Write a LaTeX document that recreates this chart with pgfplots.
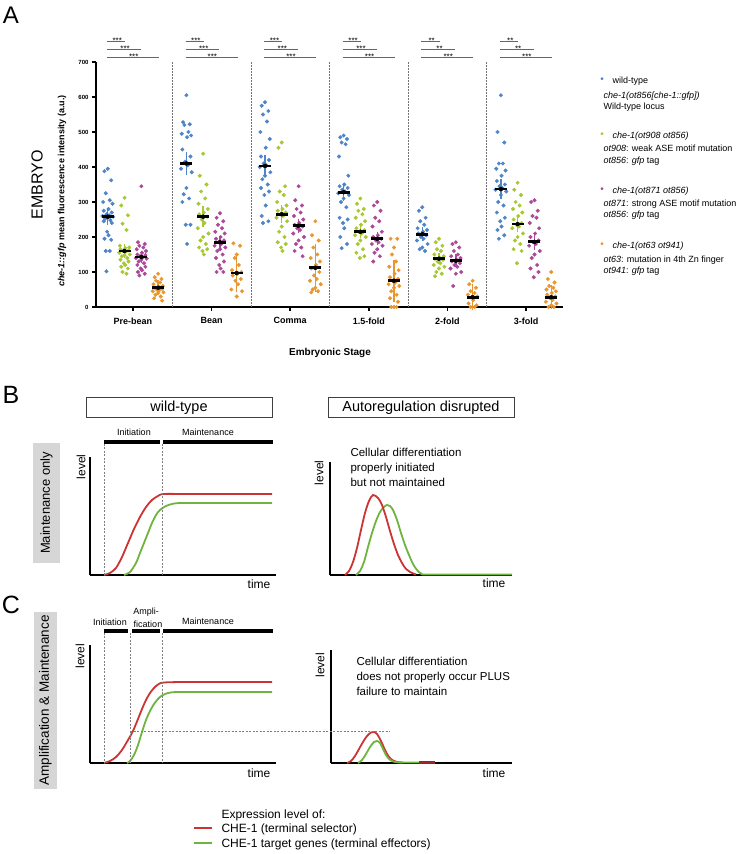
\documentclass[border=0pt]{standalone}
\usepackage{fontspec}
\setmainfont{Liberation Sans}
\usepackage{pgfplots}
\pgfplotsset{compat=1.18}
\definecolor{wtb}{RGB}{78,132,200}
\definecolor{grn}{RGB}{166,200,50}
\definecolor{mag}{RGB}{172,72,152}
\definecolor{org}{RGB}{234,150,48}
\definecolor{cred}{RGB}{204,52,52}
\definecolor{cgrn}{RGB}{112,180,64}
\newcommand{\fs}[1]{\fontsize{#1}{#1}\selectfont}
\pgfplotsset{schem/.style={anchor=south west, scale only axis, axis x line=bottom, axis y line=left,
  axis line style={-, line width=2.2pt, black}, xtick=\empty, ytick=\empty, clip=false}}

\begin{document}
\begin{tikzpicture}
\useasboundingbox (0,0) rectangle (736pt,854pt);

% ---------------- Panel A ----------------
\begin{axis}[at={(96pt,547pt)}, anchor=south west, scale only axis, width=467pt, height=245pt,
  xmin=-0.47, xmax=5.47, ymin=0, ymax=700, clip=false,
  axis x line=bottom, axis y line=left, axis line style={-, line width=2.4pt, black},
  xtick={0,1,2,3,4,5}, xticklabels={Pre-bean,Bean,Comma,1.5-fold,2-fold,3-fold},
  ytick={0,100,...,700}, tick align=outside, major tick length=4pt,
  tick style={line width=1.8pt, black},
  x tick label style={font=\bfseries\fs{9}, yshift=-3pt},
  y tick label style={font=\bfseries\fs{6}},
  /pgf/number format/assume math mode=true]

\draw[black!55, dash pattern=on 1.5pt off 1.5pt, line width=0.5pt] (axis cs:0.5,0) -- (axis cs:0.5,700);
\draw[black!55, dash pattern=on 1.5pt off 1.5pt, line width=0.5pt] (axis cs:1.5,0) -- (axis cs:1.5,700);
\draw[black!55, dash pattern=on 1.5pt off 1.5pt, line width=0.5pt] (axis cs:2.5,0) -- (axis cs:2.5,700);
\draw[black!55, dash pattern=on 1.5pt off 1.5pt, line width=0.5pt] (axis cs:3.5,0) -- (axis cs:3.5,700);
\draw[black!55, dash pattern=on 1.5pt off 1.5pt, line width=0.5pt] (axis cs:4.5,0) -- (axis cs:4.5,700);

% wild-type
\addplot[only marks, mark=*, mark size=1.8pt, color=wtb] table[row sep=\\, x expr=\thisrow{s}-0.32+0.85*\thisrow{d}, y=y] {
s d y\\
0 0 395\\0 -.05 388\\0 .05 362\\0 -.03 325\\0 .03 305\\0 -.07 300\\0 .07 295\\0 .01 280\\0 -.06 275\\0 .06 270\\0 -.02 265\\0 .02 262\\0 -.08 260\\0 .08 258\\0 0 255\\0 -.04 252\\0 .04 248\\0 -.06 245\\0 .06 240\\0 -.01 215\\0 .01 205\\0 -.05 195\\0 .05 192\\0 -.03 160\\0 .03 160\\0 -.02 102\\
1 0 605\\1 -.05 528\\1 .05 522\\1 -.03 520\\1 .03 500\\1 -.07 495\\1 .07 490\\1 .01 485\\1 -.06 450\\1 .06 430\\1 -.02 415\\1 .02 405\\1 -.08 395\\1 .08 385\\1 0 340\\1 -.04 322\\1 .04 310\\1 -.06 300\\1 .06 235\\1 -.01 235\\1 .01 180\\
2 0 585\\2 -.05 575\\2 .05 560\\2 -.03 550\\2 .03 530\\2 -.07 500\\2 .07 480\\2 .01 455\\2 -.06 430\\2 .06 420\\2 -.02 410\\2 .02 405\\2 -.08 400\\2 .08 385\\2 0 375\\2 -.04 365\\2 .04 350\\2 -.06 340\\2 .06 330\\2 -.01 320\\2 .01 290\\2 -.05 260\\2 .05 245\\2 -.03 240\\
3 0 490\\3 -.05 485\\3 .05 480\\3 -.03 470\\3 .03 465\\3 -.07 430\\3 .07 375\\3 .01 350\\3 -.06 345\\3 .06 340\\3 -.02 335\\3 .02 330\\3 -.08 325\\3 .08 320\\3 0 310\\3 -.04 300\\3 .04 285\\3 -.06 255\\3 .06 250\\3 -.01 240\\3 .01 225\\3 -.05 200\\3 .05 180\\3 -.03 168\\
4 0 285\\4 -.05 275\\4 .05 255\\4 -.03 245\\4 .03 235\\4 -.07 225\\4 .07 220\\4 .01 215\\4 -.06 210\\4 .06 205\\4 -.02 200\\4 .02 195\\4 -.08 190\\4 .08 180\\4 0 170\\4 -.04 165\\4 .04 160\\
5 0 605\\5 -.05 500\\5 .05 470\\5 -.03 410\\5 .03 410\\5 -.07 395\\5 .07 390\\5 .01 375\\5 -.06 360\\5 .06 350\\5 -.02 345\\5 .02 340\\5 -.08 335\\5 .08 330\\5 0 320\\5 -.04 300\\5 .04 290\\5 -.06 270\\5 .06 255\\5 -.01 245\\5 .01 230\\5 -.05 220\\5 .05 205\\5 -.03 195\\
};
% ot908
\addplot[only marks, mark=*, mark size=1.8pt, color=grn] table[row sep=\\, x expr=\thisrow{s}-0.107+0.85*\thisrow{d}, y=y] {
s d y\\
0 0 312\\0 -.05 290\\0 .05 262\\0 -.03 238\\0 .03 220\\0 -.07 175\\0 .07 170\\0 .01 168\\0 -.06 165\\0 .06 162\\0 -.02 160\\0 .02 158\\0 -.08 155\\0 .08 150\\0 0 148\\0 -.04 145\\0 .04 140\\0 -.06 135\\0 .06 130\\0 -.01 125\\0 .01 120\\0 -.05 115\\0 .05 110\\0 -.03 100\\0 .03 95\\
1 0 438\\1 -.05 375\\1 .05 350\\1 -.03 330\\1 .03 310\\1 -.07 295\\1 .07 280\\1 .01 270\\1 -.06 265\\1 .06 258\\1 -.02 250\\1 .02 240\\1 -.08 225\\1 .08 210\\1 0 200\\1 -.04 190\\1 .04 180\\1 -.06 170\\1 .06 165\\1 -.01 160\\1 .01 150\\
2 0 470\\2 -.05 455\\2 .05 345\\2 -.03 330\\2 .03 320\\2 -.07 300\\2 .07 290\\2 .01 280\\2 -.06 275\\2 .06 270\\2 -.02 265\\2 .02 260\\2 -.08 255\\2 .08 245\\2 0 230\\2 -.04 215\\2 .04 200\\2 -.06 185\\2 .06 180\\2 -.01 170\\2 .01 160\\
3 0 310\\3 -.05 295\\3 .05 280\\3 -.03 275\\3 .03 265\\3 -.07 255\\3 .07 245\\3 .01 235\\3 -.06 225\\3 .06 220\\3 -.02 215\\3 .02 210\\3 -.08 205\\3 .08 200\\3 0 190\\3 -.04 180\\3 .04 165\\3 -.06 155\\3 .06 145\\3 -.01 140\\
4 0 195\\4 -.05 185\\4 .05 175\\4 -.03 165\\4 .03 160\\4 -.07 150\\4 .07 145\\4 .01 140\\4 -.06 138\\4 .06 135\\4 -.02 130\\4 .02 125\\4 -.08 120\\4 .08 115\\4 0 110\\4 -.04 100\\4 .04 95\\4 -.06 88\\
5 0 355\\5 -.05 335\\5 .05 320\\5 -.03 300\\5 .03 290\\5 -.07 280\\5 .07 270\\5 .01 260\\5 -.06 250\\5 .06 240\\5 -.02 235\\5 .02 230\\5 -.08 225\\5 .08 210\\5 0 200\\5 -.04 190\\5 .04 180\\5 -.06 165\\5 .06 160\\5 -.01 125\\
};
% ot871
\addplot[only marks, mark=*, mark size=1.8pt, color=mag] table[row sep=\\, x expr=\thisrow{s}+0.107+0.85*\thisrow{d}, y=y] {
s d y\\
0 0 345\\0 -.05 185\\0 .05 180\\0 -.03 175\\0 .03 170\\0 -.07 165\\0 .07 160\\0 .01 155\\0 -.06 150\\0 .06 148\\0 -.02 145\\0 .02 142\\0 -.08 140\\0 .08 138\\0 0 135\\0 -.04 130\\0 .04 125\\0 -.06 120\\0 .06 115\\0 -.01 110\\0 .01 105\\0 -.05 100\\0 .05 95\\0 -.03 90\\
1 0 268\\1 -.05 255\\1 .05 245\\1 -.03 235\\1 .03 225\\1 -.07 215\\1 .07 210\\1 .01 200\\1 -.06 195\\1 .06 190\\1 -.02 185\\1 .02 180\\1 -.08 175\\1 .08 170\\1 0 165\\1 -.04 160\\1 .04 150\\1 -.06 140\\1 .06 130\\1 -.01 120\\1 .01 110\\1 -.05 100\\1 .05 100\\
2 0 345\\2 -.05 305\\2 .05 290\\2 -.03 280\\2 .03 270\\2 -.07 260\\2 .07 250\\2 .01 240\\2 -.06 235\\2 .06 230\\2 -.02 225\\2 .02 220\\2 -.08 210\\2 .08 200\\2 0 190\\2 -.04 180\\2 .04 170\\2 -.06 160\\2 .06 145\\
3 0 300\\3 -.05 290\\3 .05 275\\3 -.03 255\\3 .03 245\\3 -.07 230\\3 .07 215\\3 .01 205\\3 -.06 200\\3 .06 195\\3 -.02 190\\3 .02 185\\3 -.08 180\\3 .08 175\\3 0 165\\3 -.04 155\\3 .04 145\\3 -.06 130\\
4 0 185\\4 -.05 180\\4 .05 170\\4 -.03 160\\4 .03 150\\4 -.07 145\\4 .07 140\\4 .01 135\\4 -.06 130\\4 .06 125\\4 -.02 120\\4 .02 115\\4 -.08 110\\4 .08 100\\4 0 95\\4 -.04 60\\
5 0 305\\5 -.05 300\\5 .05 275\\5 -.03 260\\5 .03 255\\5 -.07 240\\5 .07 225\\5 .01 210\\5 -.06 200\\5 .06 190\\5 -.02 185\\5 .02 180\\5 -.08 175\\5 .08 160\\5 0 150\\5 -.04 140\\5 .04 120\\5 -.06 110\\5 .06 100\\5 -.01 85\\
};
% ot63
\addplot[only marks, mark=*, mark size=1.8pt, color=org] table[row sep=\\, x expr=\thisrow{s}+0.32+0.85*\thisrow{d}, y=y] {
s d y\\
0 0 95\\0 -.05 85\\0 .05 80\\0 -.03 75\\0 .03 70\\0 -.07 65\\0 .07 60\\0 .01 58\\0 -.06 55\\0 .06 52\\0 -.02 50\\0 .02 48\\0 -.08 45\\0 .08 42\\0 0 40\\0 -.04 35\\0 .04 30\\0 -.06 25\\0 .06 18\\
1 -.05 182\\1 .05 175\\1 0 150\\1 -.03 140\\1 .03 120\\1 -.07 105\\1 .07 100\\1 .01 95\\1 -.06 90\\1 .06 80\\1 -.02 75\\1 .02 65\\1 -.08 50\\1 .08 45\\1 0 30\\
2 0 245\\2 -.05 205\\2 .05 190\\2 -.03 170\\2 .03 150\\2 -.07 140\\2 .07 130\\2 .01 120\\2 -.06 110\\2 .06 100\\2 -.02 90\\2 .02 80\\2 -.08 75\\2 .08 65\\2 0 55\\2 -.04 50\\2 .04 45\\2 -.06 42\\
3 -.05 195\\3 .05 195\\3 0 170\\3 -.03 150\\3 .03 130\\3 -.07 115\\3 .07 105\\3 .01 95\\3 -.06 85\\3 .06 80\\3 -.02 75\\3 .02 70\\3 -.08 65\\3 .08 60\\3 0 55\\3 -.04 45\\3 .04 35\\3 -.06 25\\3 .06 15\\3 -.04 0\\3 0 0\\3 .04 0\\
4 0 75\\4 -.05 65\\4 .05 55\\4 -.03 45\\4 .03 40\\4 -.07 35\\4 .07 30\\4 .01 20\\4 -.06 10\\4 .06 5\\4 -.03 0\\4 .03 0\\
5 0 100\\5 -.05 80\\5 .05 70\\5 -.03 60\\5 .03 55\\5 -.07 50\\5 .07 45\\5 .01 40\\5 -.06 35\\5 .06 30\\5 -.02 25\\5 .02 20\\5 -.08 15\\5 .08 10\\5 0 5\\5 -.04 0\\5 .04 0\\
};

% error bars
\addplot[only marks, mark=none, forget plot, error bars/.cd, y dir=both, y explicit,
  error bar style={line width=1.4pt, wtb}, error mark options={wtb, line width=1.4pt, mark size=3.5pt}]
  coordinates {(-0.32,258) +- (0,15) (0.68,410) +- (0,23) (1.68,403) +- (0,22) (2.68,328) +- (0,15) (3.68,208) +- (0,10) (4.68,337) +- (0,18)};
\addplot[only marks, mark=none, forget plot, error bars/.cd, y dir=both, y explicit,
  error bar style={line width=1.4pt, grn}, error mark options={grn, line width=1.4pt, mark size=3.5pt}]
  coordinates {(-0.107,160) +- (0,10) (0.893,258) +- (0,20) (1.893,265) +- (0,15) (2.893,215) +- (0,8) (3.893,138) +- (0,6) (4.893,237) +- (0,12)};
\addplot[only marks, mark=none, forget plot, error bars/.cd, y dir=both, y explicit,
  error bar style={line width=1.4pt, mag}, error mark options={mag, line width=1.4pt, mark size=3.5pt}]
  coordinates {(0.107,143) +- (0,8) (1.107,185) +- (0,8) (2.107,232) +- (0,10) (3.107,195) +- (0,8) (4.107,132) +- (0,8) (5.107,186) +- (0,12)};
\addplot[only marks, mark=none, forget plot, error bars/.cd, y dir=both, y explicit,
  error bar style={line width=1.4pt, org}, error mark options={org, line width=1.4pt, mark size=3.5pt}]
  coordinates {(0.32,55) +- (0,12) (1.32,97) +- (0,45) (2.32,112) +- (0,58) (3.32,75) +- (0,50) (4.32,28) +- (0,28) (5.32,28) +- (0,25)};
% means
\addplot[only marks, mark=-, mark size=6pt, mark options={line width=2.8pt, black}] coordinates {
(-0.32,258) (0.68,410) (1.68,403) (2.68,328) (3.68,208) (4.68,337)
(-0.107,160) (0.893,258) (1.893,265) (2.893,215) (3.893,138) (4.893,237)
(0.107,143) (1.107,185) (2.107,232) (3.107,195) (4.107,132) (5.107,186)
(0.32,55) (1.32,97) (2.32,112) (3.32,75) (4.32,28) (5.32,28)};

% significance
\draw[black!60, line width=0.6pt] (axis cs:-0.33,760) -- (axis cs:-0.10,760);
\draw[black!60, line width=0.6pt] (axis cs:-0.33,737) -- (axis cs:0.10,737);
\draw[black!60, line width=0.6pt] (axis cs:-0.33,714) -- (axis cs:0.33,714);
\draw[black!60, line width=0.6pt] (axis cs:0.67,760) -- (axis cs:0.90,760);
\draw[black!60, line width=0.6pt] (axis cs:0.67,737) -- (axis cs:1.10,737);
\draw[black!60, line width=0.6pt] (axis cs:0.67,714) -- (axis cs:1.33,714);
\draw[black!60, line width=0.6pt] (axis cs:1.67,760) -- (axis cs:1.90,760);
\draw[black!60, line width=0.6pt] (axis cs:1.67,737) -- (axis cs:2.10,737);
\draw[black!60, line width=0.6pt] (axis cs:1.67,714) -- (axis cs:2.33,714);
\draw[black!60, line width=0.6pt] (axis cs:2.67,760) -- (axis cs:2.90,760);
\draw[black!60, line width=0.6pt] (axis cs:2.67,737) -- (axis cs:3.10,737);
\draw[black!60, line width=0.6pt] (axis cs:2.67,714) -- (axis cs:3.33,714);
\draw[black!60, line width=0.6pt] (axis cs:3.67,760) -- (axis cs:3.90,760);
\draw[black!60, line width=0.6pt] (axis cs:3.67,737) -- (axis cs:4.10,737);
\draw[black!60, line width=0.6pt] (axis cs:3.67,714) -- (axis cs:4.33,714);
\draw[black!60, line width=0.6pt] (axis cs:4.67,760) -- (axis cs:4.90,760);
\draw[black!60, line width=0.6pt] (axis cs:4.67,737) -- (axis cs:5.10,737);
\draw[black!60, line width=0.6pt] (axis cs:4.67,714) -- (axis cs:5.33,714);
\node[anchor=base, font=\fs{8}, inner sep=0] at (axis cs:-0.20,753) {***};
\node[anchor=base, font=\fs{8}, inner sep=0] at (axis cs:-0.10,730) {***};
\node[anchor=base, font=\fs{8}, inner sep=0] at (axis cs:0.01,707) {***};
\node[anchor=base, font=\fs{8}, inner sep=0] at (axis cs:0.80,753) {***};
\node[anchor=base, font=\fs{8}, inner sep=0] at (axis cs:0.90,730) {***};
\node[anchor=base, font=\fs{8}, inner sep=0] at (axis cs:1.01,707) {***};
\node[anchor=base, font=\fs{8}, inner sep=0] at (axis cs:1.80,753) {***};
\node[anchor=base, font=\fs{8}, inner sep=0] at (axis cs:1.90,730) {***};
\node[anchor=base, font=\fs{8}, inner sep=0] at (axis cs:2.01,707) {***};
\node[anchor=base, font=\fs{8}, inner sep=0] at (axis cs:2.80,753) {***};
\node[anchor=base, font=\fs{8}, inner sep=0] at (axis cs:2.90,730) {***};
\node[anchor=base, font=\fs{8}, inner sep=0] at (axis cs:3.01,707) {***};
\node[anchor=base, font=\fs{8}, inner sep=0] at (axis cs:3.80,753) {**};
\node[anchor=base, font=\fs{8}, inner sep=0] at (axis cs:3.90,730) {**};
\node[anchor=base, font=\fs{8}, inner sep=0] at (axis cs:4.01,707) {***};
\node[anchor=base, font=\fs{8}, inner sep=0] at (axis cs:4.80,753) {**};
\node[anchor=base, font=\fs{8}, inner sep=0] at (axis cs:4.90,730) {**};
\node[anchor=base, font=\fs{8}, inner sep=0] at (axis cs:5.01,707) {***};
\end{axis}

% ---------------- Panel B schematics ----------------
\begin{axis}[schem, at={(90pt,279pt)}, width=186pt, height=118pt, xmin=0, xmax=186, ymin=0, ymax=118]
\addplot[smooth, cred, line width=1.8pt] coordinates {(14,0) (20,2) (26,7) (32,18) (38,32) (44,46) (50,58) (56,68) (62,75) (68,79) (74,81) (100,81) (182,81)};
\addplot[smooth, cgrn, line width=1.8pt] coordinates {(34,0) (40,3) (46,12) (50,22) (54,32) (58,42) (62,52) (66,60) (70,65) (76,69) (84,71.5) (95,72) (130,72) (182,72)};
\end{axis}
\begin{axis}[schem, at={(330pt,279pt)}, width=182pt, height=113pt, xmin=0, xmax=182, ymin=0, ymax=113]
\addplot[smooth, cgrn, line width=1.8pt] coordinates {(26,0) (30,4) (34,13) (38,28) (42,42) (46,54) (50,63) (54,68) (57,70) (60,69) (63,65) (67,55) (71,42) (75,30) (79,20) (83,11) (87,5) (91,1.5) (96,0.5) (140,0.5) (182,0.5)};
\addplot[smooth, cred, line width=1.8pt] coordinates {(15,0) (19,4) (23,13) (27,27) (31,45) (35,62) (39,74) (43,80) (48,77) (52,70) (56,58) (60,44) (64,31) (68,20) (72,12) (76,6) (80,3) (86,0.5)};
\end{axis}

% ---------------- Panel C schematics ----------------
\begin{axis}[schem, at={(90pt,91pt)}, width=186pt, height=118pt, xmin=0, xmax=186, ymin=0, ymax=118]
\addplot[smooth, cred, line width=1.8pt] coordinates {(14,0) (20,2) (26,6) (32,13) (38,23) (43,32) (48,44) (52,54) (56,63) (60,70) (64,75) (68,78.5) (74,80.5) (100,81) (182,81)};
\addplot[smooth, cgrn, line width=1.8pt] coordinates {(37,0) (40,2) (44,8) (48,18) (52,31) (56,43) (60,52) (64,59) (68,64) (72,67.5) (78,70) (86,71) (100,71) (182,71)};
\end{axis}
\begin{axis}[schem, at={(331pt,91pt)}, width=181pt, height=113pt, xmin=0, xmax=181, ymin=0, ymax=113]
\addplot[smooth, cred, line width=1.8pt] coordinates {(16,0) (20,2) (24,7) (28,14) (32,21) (36,27) (40,30.5) (43,31) (46,29) (50,22) (54,13) (58,6) (62,2.5) (66,1) (72,0.5)};
\addplot[smooth, cgrn, line width=1.8pt] coordinates {(27,0) (31,3) (35,9) (39,16) (43,21) (46,22) (49,20) (52,14) (55,8) (58,4) (62,1.5) (66,0.7) (72,0.5) (89,0.5)};
\addplot[cred!75!black, line width=2.2pt] coordinates {(88,0.5) (104,0.5)};
\end{axis}

% ---------------- annotations (pixel coordinates) ----------------
\begin{scope}[shift={(0pt,854pt)}, x=1pt, y=-1pt]
\node[font=\fs{24}] at (11,15) {A};
\node[rotate=90, font=\fs{16}] at (37,185) {EMBRYO};
\node[rotate=90, font=\bfseries\fs{9}] at (62,191) {\textit{che-1::gfp} mean fluorescence intensity (a.u.)};
\node[font=\bfseries\fs{10}] at (330,353) {Embryonic Stage};

% legend A
\node[wtb, font=\fs{10}] at (602,80) {•};
\node[anchor=base west, font=\fs{9}] at (609,83.3) {wild-type};
\node[anchor=base west, font=\fs{9}] at (600,98.3) {\textit{che-1(ot856[che-1::gfp])}};
\node[anchor=base west, font=\fs{9}] at (600,109.3) {Wild-type locus};
\node[grn, font=\fs{10}] at (602,135) {•};
\node[anchor=base west, font=\fs{9}] at (609,138.3) {\textit{che-1(ot908 ot856)}};
\node[anchor=base west, font=\fs{9}] at (600,151.3) {\textit{ot908}: weak ASE motif mutation};
\node[anchor=base west, font=\fs{9}] at (600,163.3) {\textit{ot856}: \textit{gfp} tag};
\node[mag, font=\fs{10}] at (602,190) {•};
\node[anchor=base west, font=\fs{9}] at (609,193.3) {\textit{che-1(ot871 ot856)}};
\node[anchor=base west, font=\fs{9}] at (600,206.3) {\textit{ot871}: strong ASE motif mutation};
\node[anchor=base west, font=\fs{9}] at (600,217.3) {\textit{ot856}: \textit{gfp} tag};
\node[org, font=\fs{10}] at (602,245) {•};
\node[anchor=base west, font=\fs{9}] at (609,248.3) {\textit{che-1(ot63 ot941)}};
\node[anchor=base west, font=\fs{9}] at (600,262.3) {\textit{ot63}: mutation in 4th Zn finger};
\node[anchor=base west, font=\fs{9}] at (600,273.3) {\textit{ot941}: \textit{gfp} tag};

% panel B
\node[font=\fs{25}] at (11,395) {B};
\draw[line width=0.8pt, black!75] (86,397) rectangle (272,417);
\node[font=\fs{14.5}] at (179,407.5) {wild-type};
\draw[line width=0.8pt, black!75] (328,397) rectangle (514,417);
\node[font=\fs{14.5}] at (421,407.5) {Autoregulation disrupted};
\fill[black!16] (33,443) rectangle (60,563);
\node[rotate=90, font=\fs{13}] at (46.5,503) {Maintenance only};
\draw[line width=3.5pt] (104,442) -- (160,442);
\draw[line width=3.5pt] (163,442) -- (273,442);
\node[font=\fs{9}] at (134,432) {Initiation};
\node[font=\fs{9}] at (208,432) {Maintenance};
\draw[black!50, dash pattern=on 2pt off 1.5pt, line width=0.5pt] (104,444) -- (104,575);
\draw[black!50, dash pattern=on 2pt off 1.5pt, line width=0.5pt] (162,444) -- (162,575);
\node[rotate=90, font=\fs{12}] at (81,467) {level};
\node[font=\fs{12}] at (259,584) {time};
\node[rotate=90, font=\fs{12}] at (319,473) {level};
\node[font=\fs{12}] at (494,583) {time};
\node[anchor=base west, font=\fs{11.5}] at (347,457) {Cellular differentiation};
\node[anchor=base west, font=\fs{11.5}] at (347,472) {properly initiated};
\node[anchor=base west, font=\fs{11.5}] at (347,487) {but not maintained};

% panel C
\node[font=\fs{25}] at (11,605) {C};
\fill[black!16] (34,612) rectangle (57,789);
\node[rotate=90, font=\fs{13.5}] at (45.5,700.5) {Amplification \& Maintenance};
\draw[line width=3.5pt] (104,631) -- (128,631);
\draw[line width=3.5pt] (132,631) -- (160,631);
\draw[line width=3.5pt] (163,631) -- (273,631);
\node[font=\fs{9}] at (110,622) {Initiation};
\node[font=\fs{9}] at (146,612.5) {Ampli-};
\node[font=\fs{9}] at (148,624) {fication};
\node[font=\fs{9}] at (208,621) {Maintenance};
\draw[black!50, dash pattern=on 2pt off 1.5pt, line width=0.5pt] (104,633) -- (104,763);
\draw[black!50, dash pattern=on 2pt off 1.5pt, line width=0.5pt] (130,633) -- (130,763);
\draw[black!50, dash pattern=on 2pt off 1.5pt, line width=0.5pt] (162,633) -- (162,763);
\draw[black!50, dash pattern=on 2pt off 1.5pt, line width=0.5pt] (130,731) -- (390,731);
\node[rotate=90, font=\fs{12}] at (80,656) {level};
\node[font=\fs{12}] at (259,773) {time};
\node[rotate=90, font=\fs{12}] at (320,665) {level};
\node[font=\fs{12}] at (494,773) {time};
\node[anchor=base west, font=\fs{11.5}] at (353,666) {Cellular differentiation};
\node[anchor=base west, font=\fs{11.5}] at (353,681) {does not properly occur PLUS};
\node[anchor=base west, font=\fs{11.5}] at (353,696) {failure to maintain};

% bottom legend
\node[anchor=base west, font=\fs{12}] at (218,819) {Expression level of:};
\draw[cred, line width=1.8pt] (194,828) -- (212,828);
\node[anchor=base west, font=\fs{12}] at (218,832.5) {CHE-1 (terminal selector)};
\draw[cgrn, line width=1.8pt] (194,843) -- (212,843);
\node[anchor=base west, font=\fs{12}] at (218,847.5) {CHE-1 target genes (terminal effectors)};
\end{scope}
\end{tikzpicture}
\end{document}
